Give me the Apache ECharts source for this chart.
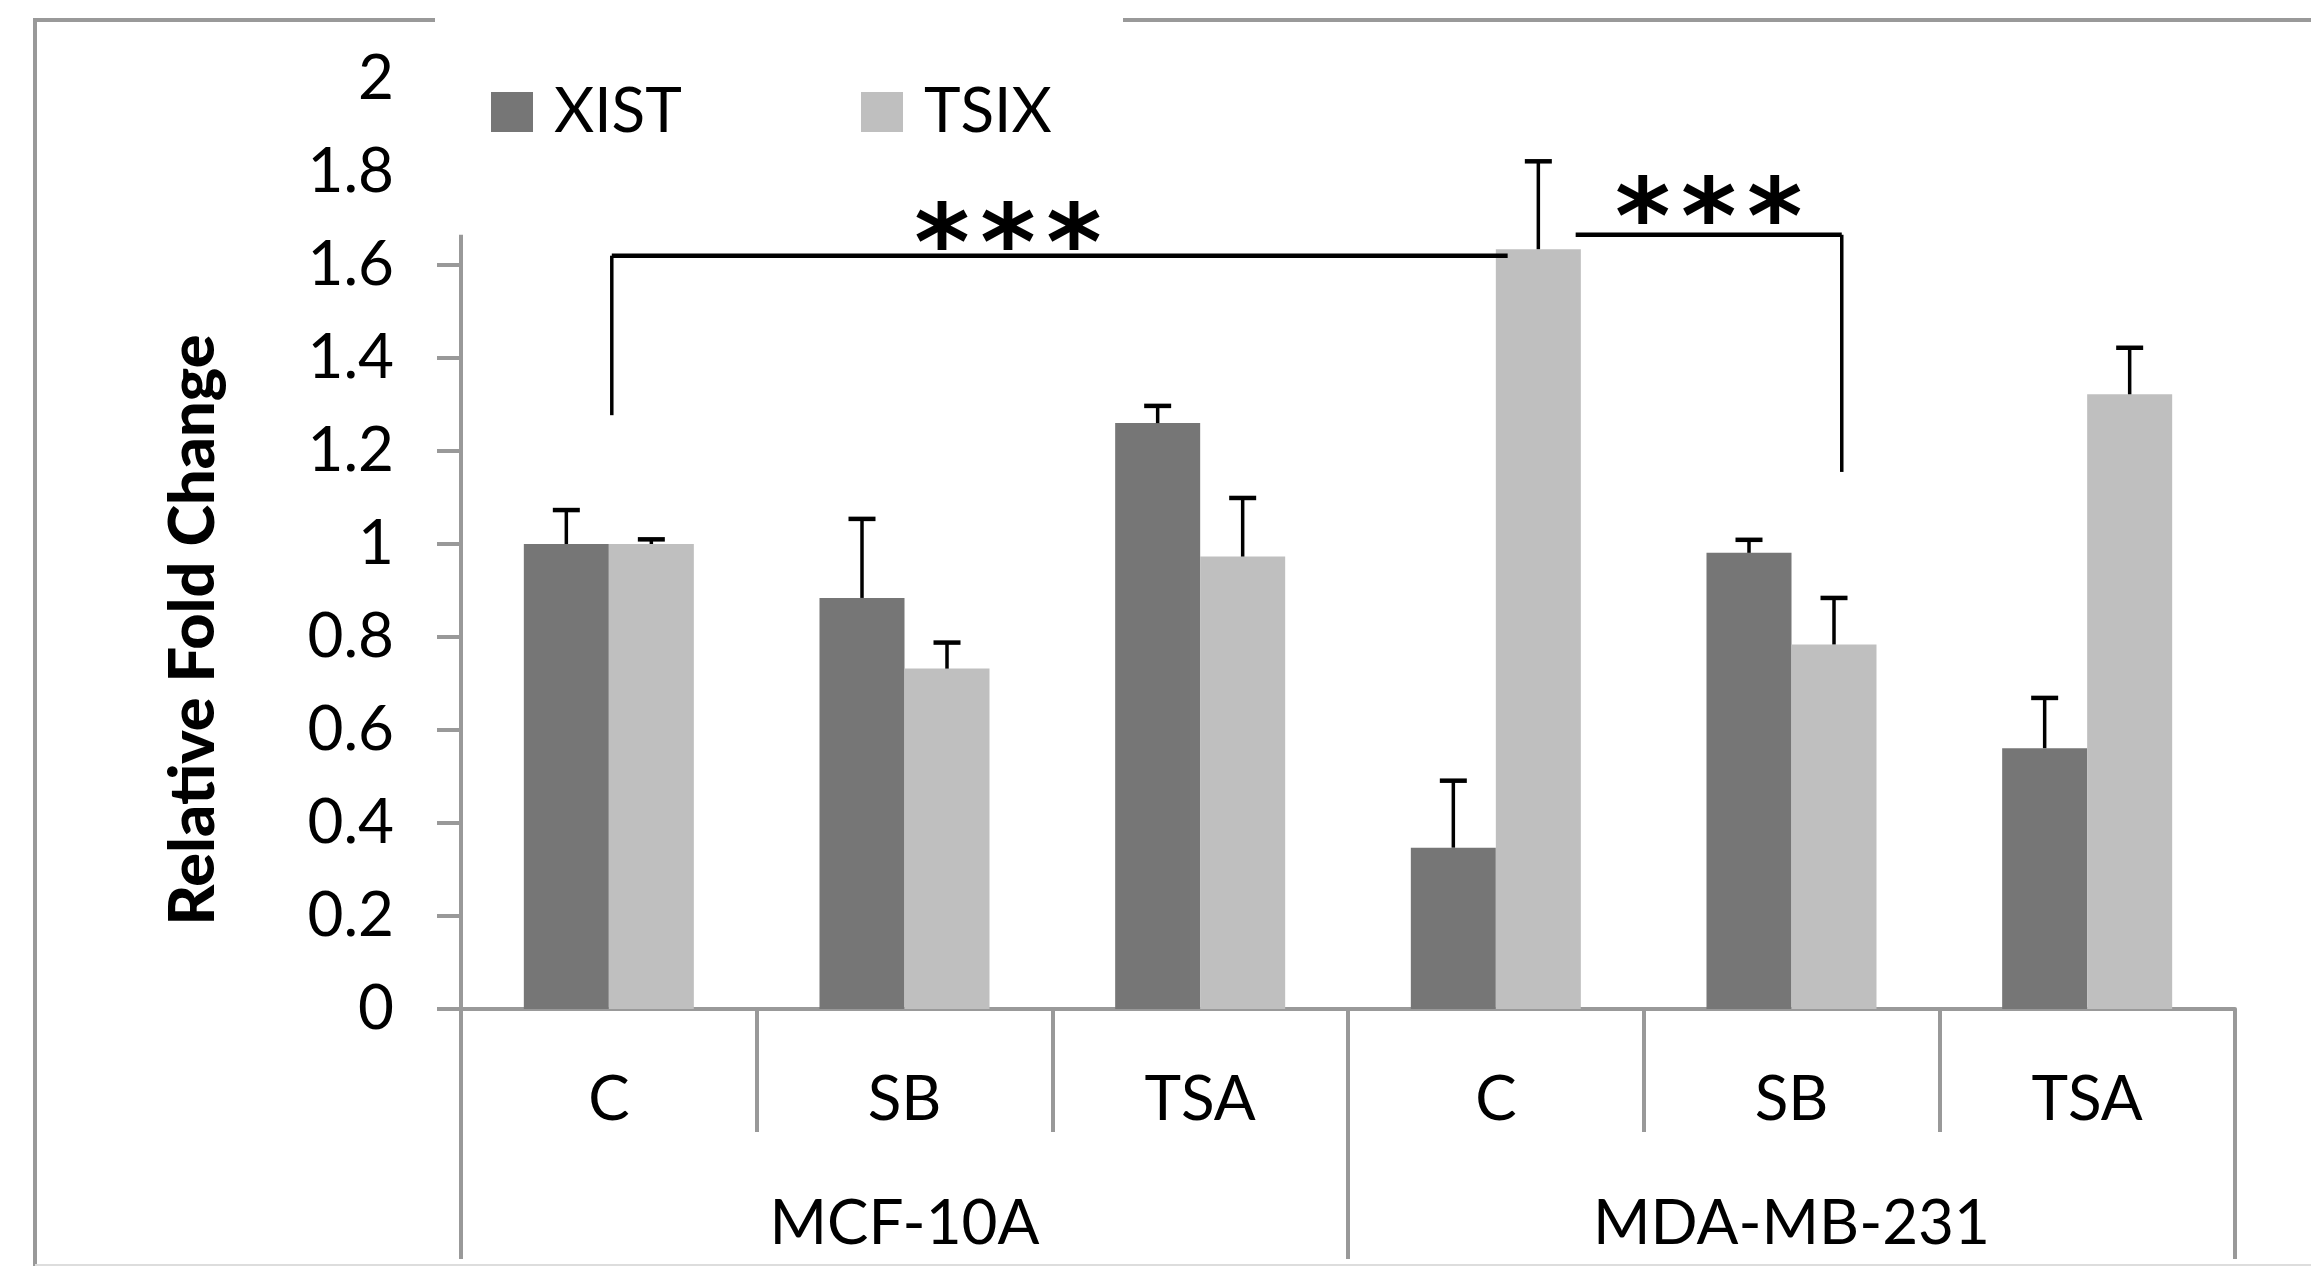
<!DOCTYPE html>
<html>
<head>
<meta charset="utf-8">
<script src="https://cdn.jsdelivr.net/npm/echarts@6/dist/echarts.min.js"></script>
<style>
html,body{margin:0;padding:0;background:#fff;}
#chart{width:2311px;height:1266px;}
</style>
</head>
<body>
<div id="chart"></div>
<script>
// ---- data ----
const categories = ['C', 'SB', 'TSA', 'C', 'SB', 'TSA'];
const groups = ['MCF-10A', 'MDA-MB-231'];
const seriesNames = ['XIST', 'TSIX'];
const xistValues = [1.00, 0.884, 1.26, 0.347, 0.981, 0.561];
const xistErrors = [0.073, 0.17, 0.037, 0.144, 0.028, 0.108];
const tsixValues = [1.00, 0.732, 0.973, 1.634, 0.784, 1.322];
const tsixErrors = [0.01, 0.056, 0.126, 0.189, 0.10, 0.10];
const yTickValues = [0, 0.2, 0.4, 0.6, 0.8, 1.0, 1.2, 1.4, 1.6];
const yAxisLineTop = 1.665;
// significance brackets (positions in category units, levels in axis values)
const bracketFrom = [0.01, 3.27];
const bracketTo = [3.04, 4.17];
const bracketLevel = [1.62, 1.665];
const bracketLeftDrop = [1.277, null];
const bracketRightDrop = [null, 1.155];
const bracketLabel = ['***', '***'];
const bracketLabelPos = [1.35, 3.72];
const bracketLabelLevel = [1.63, 1.684];

const FONT = 'Lato, "Open Sans", sans-serif';
const DARK = '#767676', LIGHT = '#bfbfbf', AXIS = '#999999';

const chart = echarts.init(document.getElementById('chart'));

const errData = [];
for (let i = 0; i < categories.length; i++) {
  errData.push([i, xistValues[i], xistErrors[i], 0]);
  errData.push([i, tsixValues[i], tsixErrors[i], 1]);
}

const option = {
  animation: false,
  backgroundColor: '#fff',
  grid: { left: 461, right: 76, top: 79, bottom: 257, containLabel: false },
  legend: [
    { data: ['XIST'], left: 491, top: 81, padding: 0, itemWidth: 42, itemHeight: 40,
      icon: 'rect', textStyle: { fontFamily: FONT, fontSize: 62, color: '#000', padding: [0, 0, 0, 16] } },
    { data: ['TSIX'], left: 861, top: 81, padding: 0, itemWidth: 42, itemHeight: 40,
      icon: 'rect', textStyle: { fontFamily: FONT, fontSize: 62, color: '#000', padding: [0, 0, 0, 16] } }
  ],
  xAxis: [
    {
      type: 'category', data: categories, position: 'bottom',
      axisLine: { show: true, lineStyle: { color: AXIS, width: 4 } },
      axisTick: { show: true, alignWithLabel: false, interval: 0, length: 123, lineStyle: { color: AXIS, width: 4 } },
      axisLabel: { interval: 0, margin: 91, verticalAlign: 'middle', fontFamily: FONT, fontSize: 62, color: '#000' },
      splitLine: { show: false }
    },
    {
      type: 'category', data: groups, position: 'bottom', gridIndex: 0,
      axisLine: { show: false },
      axisTick: { show: true, alignWithLabel: false, interval: 0, length: 250, lineStyle: { color: AXIS, width: 4 } },
      axisLabel: { interval: 0, margin: 215, verticalAlign: 'middle', fontFamily: FONT, fontSize: 62, color: '#000' },
      splitLine: { show: false }
    }
  ],
  yAxis: {
    type: 'value', min: 0, max: 2, interval: 0.2,
    name: 'Relative Fold Change', nameLocation: 'middle', nameRotate: 90, nameGap: 236,
    nameTextStyle: { fontFamily: FONT, fontSize: 63, fontWeight: 900, color: '#000', padding: [0, 172, 0, 0] },
    axisLine: { show: false }, axisTick: { show: false }, splitLine: { show: false },
    axisLabel: { margin: 67, fontFamily: FONT, fontSize: 62, color: '#000', padding: [14, 0, 0, 0] }
  },
  series: [
    { name: 'XIST', type: 'bar', data: xistValues, itemStyle: { color: DARK },
      barGap: '0%', barCategoryGap: '42.5%', z: 2 },
    { name: 'TSIX', type: 'bar', data: tsixValues, itemStyle: { color: LIGHT },
      barGap: '0%', barCategoryGap: '42.5%', z: 2 },
    {
      type: 'custom', name: 'yAxisDecor', data: [[0, 0]], z: 3, silent: true,
      renderItem: function (params, api) {
        const left = params.coordSys.x;
        const y0 = api.coord([0, 0])[1];
        const yTop = api.coord([0, yAxisLineTop])[1];
        const children = [{
          type: 'line', shape: { x1: left, y1: y0, x2: left, y2: yTop },
          style: { stroke: AXIS, lineWidth: 4 }
        }];
        yTickValues.forEach(function (v) {
          const y = api.coord([0, v])[1];
          children.push({ type: 'line', shape: { x1: left - 24, y1: y, x2: left, y2: y },
            style: { stroke: AXIS, lineWidth: 4 } });
        });
        return { type: 'group', children: children };
      }
    },
    {
      type: 'custom', name: 'errorBars', data: errData, z: 5, silent: true,
      renderItem: function (params, api) {
        const ci = api.value(0), v = api.value(1), e = api.value(2), s = api.value(3);
        const bw = api.size([1, 0])[0];
        const base = api.coord([ci, v]);
        const top = api.coord([ci, v + e]);
        const x = base[0] + (s === 0 ? -1 : 1) * bw * 0.575 / 4;
        return { type: 'group', children: [
          { type: 'line', shape: { x1: x, y1: base[1], x2: x, y2: top[1] }, style: { stroke: '#000', lineWidth: 3.5 } },
          { type: 'line', shape: { x1: x - 13.5, y1: top[1], x2: x + 13.5, y2: top[1] }, style: { stroke: '#000', lineWidth: 4.5 } }
        ] };
      }
    },
    {
      type: 'custom', name: 'brackets', data: bracketFrom.map(function () { return [0, 0]; }), z: 6, silent: true,
      renderItem: function (params, api) {
        const i = params.dataIndex;
        const x0 = api.coord([0, 0])[0];
        const bw = api.size([1, 0])[0];
        const px = function (p) { return x0 + p * bw; };
        const py = function (v) { return api.coord([0, v])[1]; };
        const xa = px(bracketFrom[i]), xb = px(bracketTo[i]), yl = py(bracketLevel[i]);
        const children = [
          { type: 'line', shape: { x1: xa, y1: yl, x2: xb, y2: yl }, style: { stroke: '#000', lineWidth: 4.5 } }
        ];
        if (bracketLeftDrop[i] != null) {
          children.push({ type: 'line', shape: { x1: xa, y1: yl, x2: xa, y2: py(bracketLeftDrop[i]) }, style: { stroke: '#000', lineWidth: 3.5 } });
        }
        if (bracketRightDrop[i] != null) {
          children.push({ type: 'line', shape: { x1: xb, y1: yl, x2: xb, y2: py(bracketRightDrop[i]) }, style: { stroke: '#000', lineWidth: 3.5 } });
        }
        const lx = px(bracketLabelPos[i]), ly = py(bracketLabelLevel[i]);
        const chars = bracketLabel[i].split('');
        chars.forEach(function (c, k) {
          children.push({ type: 'text', x: lx + (k - (chars.length - 1) / 2) * 66, y: ly,
            style: { text: c, fill: '#000', font: 'bold 106px "DejaVu Sans"', align: 'center', verticalAlign: 'middle' } });
        });
        return { type: 'group', children: children };
      }
    }
  ],
  graphic: [
    { type: 'line', shape: { x1: 35, y1: 18, x2: 35, y2: 1266 }, style: { stroke: AXIS, lineWidth: 4 }, silent: true },
    { type: 'line', shape: { x1: 33, y1: 20, x2: 435, y2: 20 }, style: { stroke: AXIS, lineWidth: 4 }, silent: true },
    { type: 'line', shape: { x1: 1123, y1: 20, x2: 2311, y2: 20 }, style: { stroke: AXIS, lineWidth: 4 }, silent: true },
    { type: 'line', shape: { x1: 35, y1: 1265, x2: 2311, y2: 1265 }, style: { stroke: '#dddddd', lineWidth: 2 }, silent: true }
  ]
};
chart.setOption(option);
</script>
</body>
</html>
